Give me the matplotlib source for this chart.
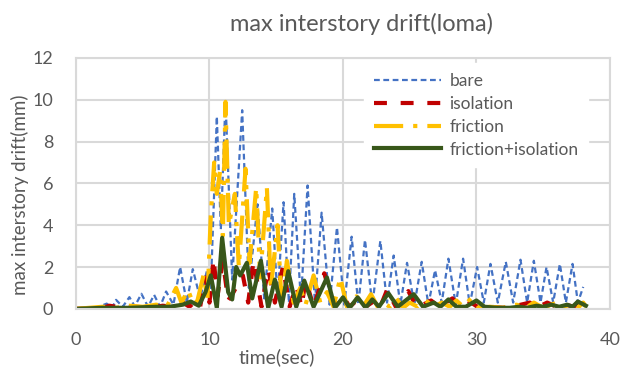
import matplotlib
matplotlib.use('Agg')
import matplotlib.pyplot as plt

# (time sec, max interstory drift mm)
bare = [
    (0, 0), (1.5, 0.05), (2.3, 0.25), (2.7, 0.05), (3.0, 0.43), (3.5, 0.1),
    (4.0, 0.56), (4.4, 0.12), (4.9, 0.72), (5.4, 0.1), (5.85, 0.67), (6.3, 0.1),
    (6.75, 0.83), (7.3, 0.2), (7.8, 2.0), (8.3, 0.3), (8.75, 1.9), (9.3, 0.5),
    (9.8, 1.8), (10.1, 1.0), (10.55, 9.2), (10.85, 3.8), (11.2, 10.0), (11.7, 1.4),
    (12.45, 9.5), (12.95, 1.0), (13.6, 5.0), (14.1, 0.5), (14.7, 4.8), (15.1, 0.5),
    (15.55, 5.1), (15.95, 0.3), (16.35, 5.5), (16.85, 0.4), (17.35, 5.9), (17.9, 0.3),
    (18.4, 4.6), (19.0, 0.2), (19.55, 3.9), (20.1, 0.2), (20.65, 3.45), (21.15, 0.2),
    (21.65, 3.3), (22.2, 0.2), (22.8, 3.25), (23.3, 0.3), (23.8, 2.55), (24.3, 0.2),
    (24.8, 2.2), (25.35, 0.2), (25.9, 2.25), (26.4, 0.2), (26.9, 1.85), (27.4, 0.3),
    (27.9, 2.4), (28.45, 0.2), (29.0, 2.4), (29.5, 0.2), (30.05, 2.0), (30.55, 0.3),
    (31.05, 2.15), (31.6, 0.3), (32.2, 2.25), (32.75, 0.3), (33.3, 2.35), (33.8, 0.3),
    (34.3, 2.3), (34.8, 0.3), (35.25, 2.0), (35.75, 0.3), (36.25, 2.15), (36.7, 0.3),
    (37.2, 2.15), (37.6, 0.3), (38.0, 1.05),
]

isolation = [
    (0, 0), (2, 0.05), (2.5, 0.15), (3.5, 0.05), (4.5, 0.1), (5.5, 0.05),
    (6.5, 0.15), (7.2, 0.1), (8.0, 0.3), (8.5, 0.1), (9.0, 0.4), (9.3, 0.1),
    (9.7, 1.5), (10.0, 0.3), (10.3, 2.4), (10.6, 0.6), (11.0, 2.3), (11.4, 0.4),
    (11.8, 0.8), (12.5, 1.6), (12.9, 0.3), (13.3, 2.3), (13.9, 0.1), (14.4, 1.9),
    (14.9, 0.3), (15.5, 2.0), (16.0, 0.1), (16.5, 1.1), (16.9, 0.1), (17.2, 1.4),
    (17.8, 0.1), (18.6, 1.7), (19.3, 0.2), (20.0, 0.6), (20.5, 0.1), (21.2, 0.5),
    (21.7, 0.1), (22.4, 0.4), (22.8, 0.1), (23.3, 0.9), (24.0, 0.05), (24.9, 0.85),
    (25.5, 0.1), (26.0, 0.2), (26.6, 0.4), (27.2, 0.1), (28.2, 0.5), (28.8, 0.1),
    (29.6, 0.3), (30.2, 0.05), (31.0, 0.1), (32.0, 0.05), (33.0, 0.15), (34.0, 0.3),
    (34.5, 0.05), (35.3, 0.3), (36.0, 0.1), (36.7, 0.2), (37.3, 0.1), (37.8, 0.45),
    (38.2, 0.2),
]

friction = [
    (0, 0), (1, 0.05), (2, 0.1), (3, 0.05), (4, 0.15), (5, 0.1), (6, 0.2),
    (6.8, 0.1), (7.5, 1.0), (7.9, 0.3), (8.4, 0.9), (8.8, 0.2), (9.1, 0.4),
    (9.55, 1.6), (9.85, 0.5), (10.1, 4.5), (10.35, 7.0), (10.55, 5.5), (10.8, 6.6),
    (11.0, 3.5), (11.2, 9.9), (11.45, 4.0), (11.9, 5.5), (12.2, 2.0), (12.7, 6.7),
    (13.0, 2.2), (13.5, 5.8), (13.8, 1.5), (14.3, 5.8), (14.6, 1.0), (15.1, 4.0),
    (15.4, 0.3), (15.8, 2.3), (16.3, 0.3), (16.8, 1.0), (17.2, 0.2), (17.8, 1.6),
    (18.3, 0.3), (18.8, 0.8), (19.3, 0.1), (19.8, 1.5), (20.3, 0.1), (21.0, 0.6),
    (21.5, 0.1), (22.1, 0.7), (22.6, 0.1), (23.0, 0.3), (23.5, 0.1), (24.0, 0.5),
    (24.5, 0.05), (25.0, 0.3), (25.6, 0.1), (26.2, 0.4), (26.8, 0.1), (27.4, 0.3),
    (28.0, 0.1), (28.5, 0.4), (29.0, 0.1), (29.6, 0.5), (30.2, 0.05), (31, 0.1),
    (32, 0.05), (33, 0.2), (33.7, 0.05), (34.3, 0.3), (35, 0.05), (35.8, 0.25),
    (36.5, 0.05), (37.2, 0.2), (37.6, 0.05), (38.0, 0.3), (38.2, 0.1),
]

friction_isolation = [
    (0, 0), (2, 0.05), (4, 0.05), (6, 0.1), (7, 0.1), (8, 0.2), (8.6, 0.35),
    (9.2, 0.15), (9.7, 0.8), (10.1, 1.6), (10.55, 0.05), (10.95, 3.4), (11.4, 0.8),
    (11.7, 0.45), (12.0, 2.0), (12.3, 1.6), (12.8, 2.2), (13.2, 0.5), (13.85, 2.3),
    (14.4, 0.05), (14.9, 1.4), (15.4, 0.1), (15.9, 1.8), (16.5, 0.1), (17.1, 1.35),
    (17.8, 0.1), (18.8, 1.5), (19.4, 0.05), (20.0, 0.55), (20.5, 0.05), (21.1, 0.55),
    (21.7, 0.05), (22.2, 0.45), (22.7, 0.1), (23.4, 0.75), (24.1, 0.1), (25.3, 0.7),
    (26.0, 0.1), (26.8, 0.3), (27.3, 0.1), (27.9, 0.45), (28.5, 0.1), (29.2, 0.1),
    (30.0, 0.4), (30.6, 0.1), (31.5, 0.05), (32.5, 0.05), (33.2, 0.1), (33.8, 0.05),
    (34.5, 0.15), (35.0, 0.1), (35.6, 0.2), (36.2, 0.1), (36.8, 0.2), (37.2, 0.1),
    (37.6, 0.35), (38.2, 0.15),
]

x_ticks = [0, 10, 20, 30, 40]
y_ticks = [0, 2, 4, 6, 8, 10, 12]

plt.rcParams['font.family'] = ['Lato', 'DejaVu Sans']
grey = '#595959'
grid = '#d9d9d9'

fig = plt.figure(figsize=(6.23, 3.69), dpi=100)
ax = fig.add_axes([0.122, 0.163, 0.857, 0.680])

series = [
    (bare, 'bare', dict(color='#4472c4', lw=1.6, dashes=(2.6, 1.6))),
    (isolation, 'isolation', dict(color='#c00000', lw=3.0, dashes=(3.1, 3.3))),
    (friction, 'friction', dict(color='#ffc000', lw=3.0, dashes=(7, 2.4, 1, 2.4))),
    (friction_isolation, 'friction+isolation', dict(color='#38571a', lw=3.0)),
]
for data, label, style in series:
    t = [p[0] for p in data]
    v = [p[1] for p in data]
    ax.plot(t, v, label=label, solid_joinstyle='round', **style)

ax.set_xlim(0, 40)
ax.set_ylim(0, 12)
ax.set_xticks(x_ticks)
ax.set_yticks(y_ticks)
ax.grid(True, color=grid, lw=1.5)
ax.set_axisbelow(True)
for s in ax.spines.values():
    s.set_color(grid)
    s.set_linewidth(1.5)
ax.tick_params(length=0, labelsize=13, colors=grey)
ax.tick_params(axis='x', pad=17)
ax.tick_params(axis='y', pad=16.5)

leg = ax.legend(loc='upper left', bbox_to_anchor=(0.53, 1.0), frameon=True,
                fontsize=12.5, handlelength=3.9, handletextpad=0.45,
                labelspacing=0.4, borderpad=0.55, borderaxespad=0.3)
leg.get_frame().set_edgecolor('white')
leg.get_frame().set_facecolor('white')
leg.get_frame().set_alpha(1)
for txt in leg.get_texts():
    txt.set_color(grey)

fig.text(362 / 623, 1 - 24 / 369, 'max interstory drift(loma)', ha='center',
         va='center', fontsize=17, color=grey)
fig.text(20 / 623, 1 - 195 / 369, 'max interstory drift(mm)', ha='center',
         va='center', rotation=90, fontsize=13.5, color=grey)
fig.text(277 / 623, 1 - 357 / 369, 'time(sec)', ha='center', va='center',
         fontsize=14, color=grey)

fig.savefig('out.png', dpi=100)
